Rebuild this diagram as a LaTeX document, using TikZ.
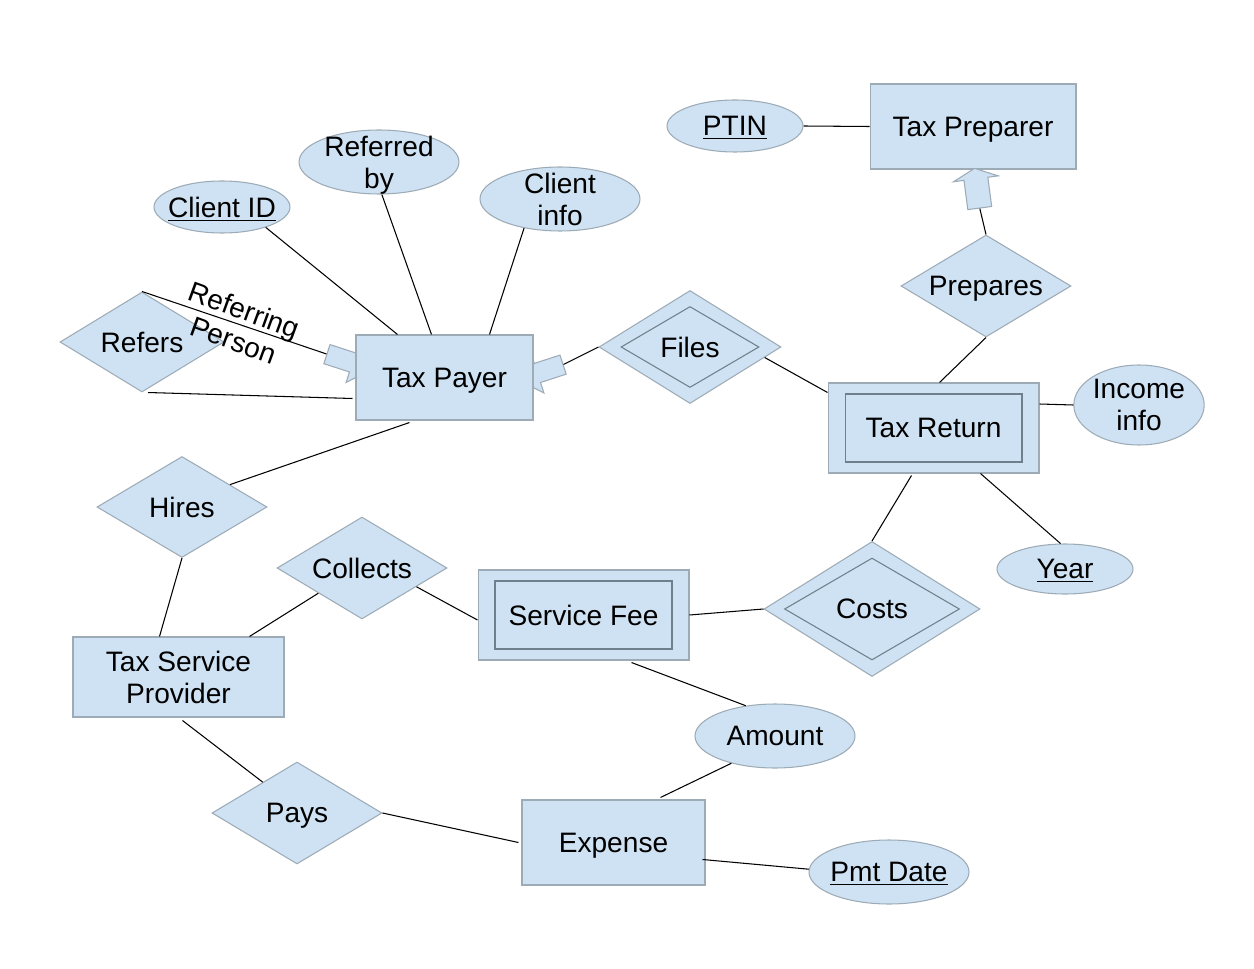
\documentclass[tikz,border=0pt]{standalone}
\usepackage{fontspec}
\setmainfont{Liberation Sans}
\usepackage{xcolor}
\usepackage{tikz}
\usetikzlibrary{shapes.geometric, shapes.arrows, calc}

\definecolor{erfill}{HTML}{CFE2F3}
\definecolor{erline}{HTML}{9DABB6}
\definecolor{erinner}{HTML}{6F7F8B}

\tikzset{
  entity/.style={rectangle, draw=erline, fill=erfill, line width=0.6pt, inner sep=0pt, align=center, text depth=0pt},
  weakinner/.style={rectangle, draw=erinner, line width=0.6pt, inner sep=0pt, text depth=0pt},
  attr/.style={ellipse, draw=erline, fill=erfill, line width=0.6pt, inner sep=-6pt, align=center, text depth=0pt},
  rel/.style={diamond, draw=erline, fill=erfill, line width=0.6pt, inner sep=0pt, aspect=1.67, text depth=0pt},
  relinner/.style={diamond, draw=erinner, line width=0.6pt, inner sep=0pt, aspect=1.7, text depth=0pt},
  isa/.style={single arrow, draw=erline, fill=erfill, line width=0.6pt, inner xsep=0pt, inner ysep=0.19cm,
    minimum height=0.96cm, single arrow head extend=0.22cm},
  link/.style={line width=0.6pt, black},
}

\begin{document}
\begin{tikzpicture}[x=0.02cm, y=-0.02cm, font=\fontsize{16}{18.2}\selectfont]
                \fill[white] (0,0) rectangle (1254,969);
                \useasboundingbox (0,0) rectangle (1254,969);

                % Tax Preparer and its key
                \node[entity, minimum width=4.12cm, minimum height=1.7cm] (tprep) at (973,126.5) {Tax Preparer};
                \node[attr, minimum width=2.72cm, minimum height=1.04cm] (ptin) at (735,126) {\underline{PTIN}};
                \node[isa, rotate=97.5, single arrow tip angle=130, minimum height=0.8cm, inner ysep=0.23cm, single arrow head extend=0.21cm] (arrU) at (977.5,191) {};
                \node[rel, minimum width=3.4cm, minimum height=2.04cm] (prep) at (986,286) {Prepares};

                % Tax Return (weak entity)
                \node[entity, minimum width=4.22cm, minimum height=1.8cm] (tret) at (933.5,428) {};
                \node[weakinner, minimum width=3.54cm, minimum height=1.36cm] at (tret) {Tax Return};
                \node[attr, minimum width=2.6cm, minimum height=1.6cm, inner sep=0pt] (inc) at (1139,405) {Income\\info};
                \node[attr, minimum width=2.72cm, minimum height=1.0cm] (year) at (1065,569) {\underline{Year}};

                % Files (identifying relationship)
                \node[rel, minimum width=3.64cm, minimum height=2.26cm] (files) at (690,347) {};
                \node[relinner, minimum width=2.76cm, minimum height=1.62cm] at (files) {Files};

                % Tax Payer
                \node[isa, rotate=-18] (arrL) at (345,360) {};
                \node[isa, rotate=198] (arrR) at (545,370.5) {};
                \node[entity, minimum width=3.54cm, minimum height=1.7cm] (tp) at (444.5,377.5) {Tax Payer};
                \node[attr, minimum width=2.72cm, minimum height=1.04cm] (cid) at (222,207) {\underline{Client ID}};
                \node[attr, minimum width=3.2cm, minimum height=1.28cm] (refby) at (379,162) {Referred\\by};
                \node[attr, minimum width=3.2cm, minimum height=1.28cm] (cinfo) at (560,199) {Client\\info};
                \node[rel, minimum width=3.28cm, minimum height=2.0cm] (refers) at (142,342) {Refers};
                \node[align=center, rotate=-20, inner sep=0pt] (rolelbl) at (239,325) {Referring\\Person};

                % Tax Service Provider side
                \node[rel, minimum width=3.4cm, minimum height=2.02cm] (hires) at (182,507) {Hires};
                \node[entity, minimum width=4.22cm, minimum height=1.6cm] (tsp) at (178.5,677) {Tax Service\\Provider};
                \node[rel, minimum width=3.4cm, minimum height=2.04cm] (coll) at (362,568) {Collects};
                \node[rel, minimum width=3.4cm, minimum height=2.04cm] (pays) at (297,813) {Pays};

                % Service Fee (weak entity)
                \node[entity, minimum width=4.22cm, minimum height=1.8cm] (sfee) at (583.5,615) {};
                \node[weakinner, minimum width=3.54cm, minimum height=1.36cm] at (sfee) {Service Fee};
                \node[rel, minimum width=4.32cm, minimum height=2.7cm, aspect=1.6] (costs) at (872,609) {};
                \node[relinner, minimum width=3.5cm, minimum height=2.04cm] at (costs) {Costs};
                \node[attr, minimum width=3.2cm, minimum height=1.28cm] (amt) at (775,736) {Amount};

                % Expense
                \node[entity, minimum width=3.66cm, minimum height=1.7cm] (exp) at (613.5,842.5) {Expense};
                \node[attr, minimum width=3.2cm, minimum height=1.28cm] (pmt) at (889,872) {\underline{Pmt Date}};

                % connectors
                \draw[link] (ptin.east) -- (tprep.west);
                \draw[link] (prep.north) -- (arrU.tail);
                \draw[link] (prep.south) -- ($(tret.north west)+(112,0)$);
                \draw[link] ($(tret.east)+(0,-24)$) -- (inc.west);
                \draw[link] ($(tret.south west)+(153,0)$) -- (year.100);
                \draw[link] (files.-8) -- ($(tret.north west)+(0,10)$);
                \draw[link] (arrR.tail) -- (files.west);
                \draw[link] (cid.-25) -- ($(tp.north west)+(42,0)$);
                \draw[link] (refby.-85) -- ($(tp.north west)+(76,0)$);
                \draw[link] (cinfo.-141) -- ($(tp.north west)+(134,0)$);
                \draw[link] (refers.north) -- (arrL.tail);
                \draw[link] ($(refers.south)+(6,0)$) -- ($(tp.west)+(-3,21)$);
                \draw[link] ($(tp.south west)+(54,2)$) -- (hires.25);
                \draw[link] (hires.south) -- ($(tsp.north west)+(87,0)$);
                \draw[link] ($(tsp.north west)+(177,0)$) -- (coll.-150);
                \draw[link] (coll.-19) -- ($(sfee.west)+(0,5)$);
                \draw[link] (sfee.east) -- (costs.west);
                \draw[link] (costs.north) -- ($(tret.south west)+(84,2)$);
                \draw[link] ($(sfee.south west)+(154,2)$) -- (amt.134);
                \draw[link] (amt.-148) -- ($(exp.north west)+(139,-2)$);
                \draw[link] ($(exp.east)+(-3,17)$) -- (pmt.178);
                \draw[link] ($(tsp.south west)+(110,3)$) -- (pays.138);
                \draw[link] (pays.east) -- ($(exp.west)+(-3,0)$);
            \end{tikzpicture}
\end{document}
